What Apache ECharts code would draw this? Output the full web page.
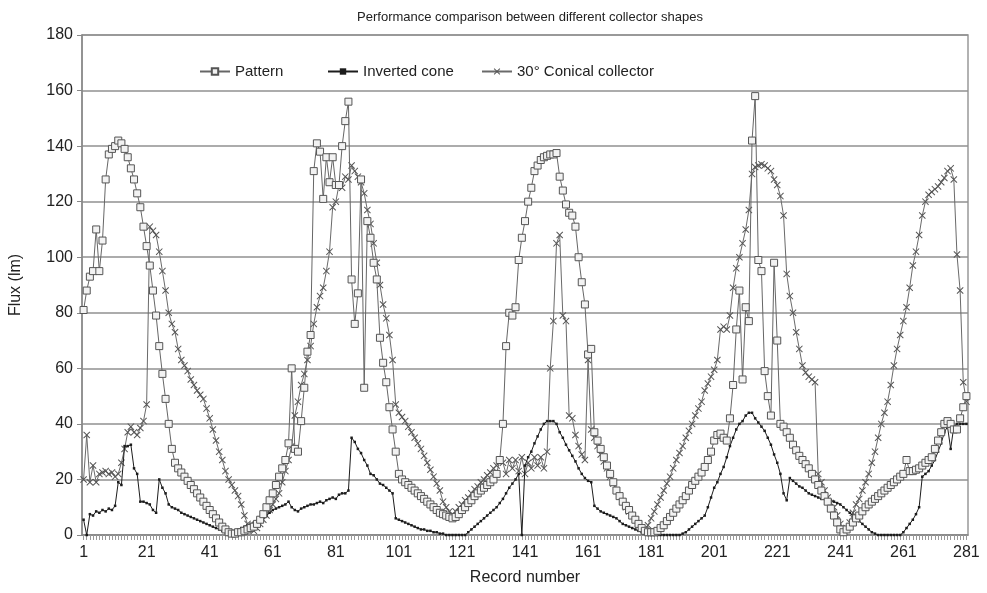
<!DOCTYPE html>
<html><head><meta charset="utf-8">
<script src="https://cdn.jsdelivr.net/npm/echarts@6/dist/echarts.min.js"></script>
<style>html,body{margin:0;padding:0;background:#fff}#c{width:987px;height:593px}</style>
</head><body><div id="c"></div>
<script>
const titleText = 'Performance comparison between different collector shapes';
const seriesNames = ['Pattern', 'Inverted cone', '30\u00b0 Conical collector'];
const yTicks = [0, 20, 40, 60, 80, 100, 120, 140, 160, 180];
const records = [];
for (let i = 1; i <= 281; i++) records.push(String(i));

const pattern = [
81,88,93,95,110,95,106,128,137,139,
140,142,141,139,136,132,128,123,118,111,
104,97,88,79,68,58,49,40,31,26,
24,22.5,21,19.5,18,16.5,15,13.5,12,10.5,
9,7.5,6,4.5,3,2,1,0.5,0.5,1,
1,1.5,2,2.5,3,4,5.5,7.5,10,12.5,
15,18,21,24,27,33,60,31,30,41,
53,66,72,131,141,138,121,136,127,136,
126,126,140,149,156,92,76,87,128,53,
113,107,98,92,71,62,55,46,38,30,
22,20,19,18,17,16,15,14,13,12,
11,10,9,8,7.5,7,6.5,6,6.5,7.5,
9,10,11.5,12.5,14,15,16,17,18,19,
20,22,27,40,68,80,79,82,99,107,
113,120,125,131,133,135,136,136.5,137,137,
137.5,129,124,119,116,115,111,100,91,83,
65,67,37,34,31,28,25,22,19,16,
14,12,10.5,9,7,5.5,4,2.5,1.5,1,
1,1,1.5,2.5,3.5,5,6.5,8,9.5,11,
12.5,14,16,18,19.5,21,22.5,24.5,27,30,
34,36,36.5,35,34,42,54,74,88,56,
82,77,142,158,99,95,59,50,43,98,
70,40,39,37,35,32.5,30.5,28.5,27,25.5,
24,22,20,18,16,14,12,9.5,7,4.5,
2,1,2,3,4.5,6,7,8.5,10,11,
12,13,14,15,16,17,18,19,20,21,
22,27,23,23,23.5,24,25,26,27,28,
31,34,37,40,41,40,38,38,42,46,50];

const invertedCone = [
5.5,0,7.5,7,8.5,8,9,8.5,9.5,9,
10.5,19,18,32,32,32.5,24,22,12,12,
11.5,11,9,8,20,17,15,11,10,9.5,
9,8,7.5,7,6.5,6,5.5,5,4.5,4,
3.5,3,2.5,2,1.5,1,1,1,1.5,2,
2.5,3,3.5,4,4.5,5,6,6.5,7,8,
9,9.5,10,10.5,11,12,10,9,8.5,9.5,
10,10.5,11,11,11.5,12,11.5,12.5,13,13.5,
13,14.5,15,15,16,35,33.5,31,29.5,27,
25,22,21.5,20,18.5,18,17,16,15,6,
5.5,5,4.5,4,3.5,3,2.5,2,2,1.5,
1.5,1,1,0.5,0.5,0,0,0,0,0,
0,0,1,2,3,4,5,6,7,8,
9,10,11.5,13,15,17,18.5,20,22,0,
25,28,30,33,35.5,38,40,41,41,41,
40,37,35,32.5,30.5,28.5,26.5,24,22,20.5,
19.5,19,10.5,9.5,8.5,8,7.5,7,6.5,6,
5,4,3.5,3,2.5,2,1.5,1,0.5,0,
0,0,0,0,0,0,0,0,0,0,
0.5,1,2,3,4,5,6,7,10,13.5,
17,19,22,24.5,28,32,35,38,40,41,
43,44,44,42,40.5,39,37.5,35,32.5,29,
26,22,15,12.5,20.5,19.5,18.5,17.5,17,16,
15,14.5,14,13.5,13,13,13,12.5,12,11.5,
11,10,9,8,7,6,5,4,3,2,
1,0.5,0,0,0,0,0,0,0,0,
1,2.5,4,5.5,7.5,10,21,22,23,25,
27,30,33,37,39,31,39,40,40,40,40];

const conical = [
20,36,19,25,19,22,22.5,23,22,22.5,
21,22,26,31,37,39,37,36,38.5,41,
47,111,109.5,108,102,95,88,80,76,73,
67,63,61,59,56,54,52,50.5,49,45.5,
42,38,34,30,27,23,20,18,16,14,
11,7,4,2.5,1.5,2.5,4,5.5,7,9,
11,13,15,19,23,27,32,43,48,54,
58,63,68,76,82,86,89,95,102,118,
120,126,125,129,128,133,131,129,127,123,
117,112,105,98,90,83,78,72,63,47,
44,42.5,41,39,37,35,33,31,28.5,26,
23.5,21,18.5,16,12,10,8.5,7.5,8.5,10,
11,12.5,13.5,15,16.5,17.5,19,20,21.5,22.5,
24,25,27,26,22,27,24,27,23,28,
22,26,24,28,25,28,24,30,60,77,
105,108,79,77,43,42,36,32,29,27,
63,38,35,32,29,26.5,24,21,18.5,16,
14,12,10,8.5,7,5.5,4,2.5,2,3.5,
6,8.5,11,13.5,16,18.5,21,24,27,29.5,
32,35,37.5,40,43,45.5,48,52,54.5,57,
59.5,63,74,75,74,79,89,96,100,105,
110,117,130,132.5,133,133.5,133,132,131,128,
126,122,115,94,86,80,73,67,61,58.5,
57,56,55,22,19,16,13.5,11.5,10,7,
4,1.5,2.5,4.5,8,11,13,16,19,22,
26,30,35,40,44,48,54,61,67,72,
77,82,89,97,102,108,115,120,122.5,123.5,
124.5,125.5,127,128.5,131,132,128,101,88,55,48];

const FONT = '"Liberation Sans", Arial, sans-serif';
const crossPath = 'path://M1,0 L5,4 L9,0 L10,1 L6,5 L10,9 L9,10 L5,6 L1,10 L0,9 L4,5 L0,1 Z';

const chart = echarts.init(document.getElementById('c'), null, {renderer: 'canvas'});
const legendBase = {top: 59, itemWidth: 30, itemHeight: 8, textStyle: {fontFamily: FONT, fontSize: 15, color: '#222'}, selectedMode: false};
chart.setOption({
  animation: false,
  backgroundColor: '#fff',
  title: {text: titleText, left: 525, textAlign: 'center', top: 6,
    textStyle: {fontFamily: FONT, fontSize: 13, fontWeight: 'normal', color: '#222'}},
  legend: [
    Object.assign({left: 194, data: [seriesNames[0]]}, legendBase),
    Object.assign({left: 322, data: [seriesNames[1]]}, legendBase),
    Object.assign({left: 476, data: [seriesNames[2]]}, legendBase)
  ],
  grid: {left: 82, right: 19, top: 35, bottom: 58, show: true, borderColor: '#999', borderWidth: 1.5, containLabel: false},
  xAxis: {
    type: 'category', data: records, boundaryGap: true,
    name: 'Record number', nameLocation: 'middle', nameGap: 35,
    nameTextStyle: {fontFamily: FONT, fontSize: 16, color: '#222'},
    axisLine: {lineStyle: {color: '#888', width: 1.5}},
    axisTick: {show: true, interval: 0, length: 5, alignWithLabel: true, lineStyle: {color: '#999', width: 1}},
    axisLabel: {interval: 19, fontFamily: FONT, fontSize: 16, color: '#222', margin: 10},
    splitLine: {show: false}
  },
  yAxis: {
    type: 'value', min: 0, max: 180, interval: 20,
    name: 'Flux (lm)', nameLocation: 'middle', nameGap: 58, nameRotate: 90,
    nameTextStyle: {fontFamily: FONT, fontSize: 16, color: '#222'},
    axisLine: {show: true, lineStyle: {color: '#888', width: 1.5}},
    axisTick: {show: true, length: 5, lineStyle: {color: '#888'}},
    axisLabel: {fontFamily: FONT, fontSize: 16, color: '#222', margin: 9,
      formatter: v => yTicks.indexOf(v) >= 0 ? String(v) : ''},
    splitLine: {show: true, lineStyle: {color: '#909090', width: 1.6}}
  },
  series: [
    {name: seriesNames[2], type: 'line', data: conical, showAllSymbol: true,
      symbol: crossPath, symbolSize: 7,
      lineStyle: {color: '#6a6a6a', width: 1},
      itemStyle: {color: '#555'}, z: 2},
    {name: seriesNames[1], type: 'line', data: invertedCone, showAllSymbol: true,
      symbol: 'rect', symbolSize: 2.5,
      lineStyle: {color: '#1c1c1c', width: 1},
      itemStyle: {color: '#1c1c1c'}, z: 3},
    {name: seriesNames[0], type: 'line', data: pattern, showAllSymbol: true,
      symbol: 'rect', symbolSize: 7,
      lineStyle: {color: '#666', width: 1},
      itemStyle: {color: '#f2f2f2', borderColor: '#555', borderWidth: 1}, z: 4}
  ]
});
</script></body></html>
